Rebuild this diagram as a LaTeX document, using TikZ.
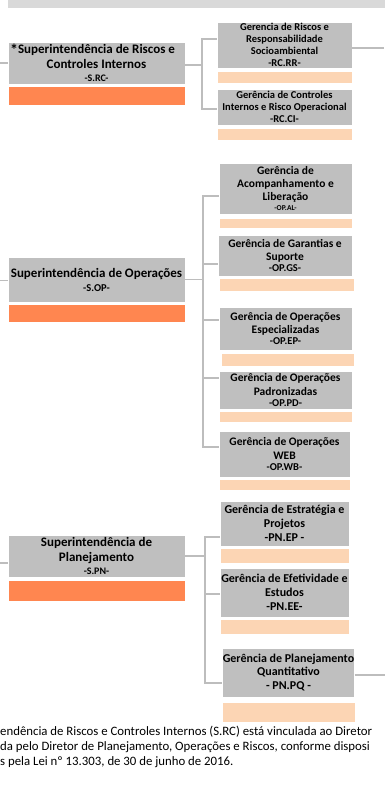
\documentclass[tikz,border=0pt]{standalone}
\usepackage{fontspec}
\setmainfont{Carlito}
\usetikzlibrary{calc,positioning}

\definecolor{boxgray}{HTML}{BFBFBF}
\definecolor{topgray}{HTML}{D9D9D9}
\definecolor{supbarcol}{HTML}{FF8650}
\definecolor{gerbarcol}{HTML}{FCD5B4}
\definecolor{linkgray}{HTML}{BDBDBD}

\newcommand{\fs}[1]{\fontsize{#1}{\dimexpr #1pt*23/20\relax}\selectfont}

\tikzset{
  supbox/.style={fill=boxgray, draw=white, line width=0.6pt, inner sep=0pt, align=center,
    minimum width=177pt, font=\bfseries\fs{13}},
  supbar/.style={fill=supbarcol, draw=white, line width=0.6pt, inner sep=0pt, minimum width=177pt},
  gerbox/.style={fill=boxgray, draw=white, line width=0.6pt, inner sep=0pt, align=center,
    minimum width=134pt},
  gerbar/.style={fill=gerbarcol, draw=white, line width=0.6pt, inner sep=0pt, minimum width=134pt},
  link/.style={draw=linkgray, line width=1.4pt}
}

\begin{document}
\begin{tikzpicture}[x=1pt, y=-1pt]
 \useasboundingbox (0,0) rectangle (385,792);
 \clip (0,0) rectangle (385,792);
 \coordinate (leftedge) at (0,0);
 \coordinate (rightedge) at (385,0);

    % top band
    \fill[topgray] (8,0) rectangle (385,8);

    % superintendencias
    \node[supbox, minimum height=42pt] (src) at (96.5,63)
      {\smash{\llap{\raisebox{-2pt}{\fs{16}*}}}Superintendência de Riscos e\\Controles Internos\\[-2pt]{\fs{10}-S.RC-}};
    \node[supbar, minimum height=19pt] (srcbar) at (96.5,95.5) {};

    \node[supbox, minimum height=45pt] (sop) at (96.5,279.5)
      {Superintendência de Operações\\[-1pt]{\fs{10.5}-S.OP-}};
    \node[supbar, minimum height=18pt] (sopbar) at (96.5,313) {};

    \node[supbox, minimum height=42pt] (spn) at (96.5,556)
      {Superintendência de\\Planejamento\\[-2pt]{\fs{10}-S.PN-}};
    \node[supbar, minimum height=21pt] (spnbar) at (96.5,590.5) {};

    % gerencias S.RC
    \node[gerbox, minimum width=135pt, minimum height=46pt, font=\bfseries\fs{10.5}] (rr) at (284.5,45)
      {Gerencia de Riscos e\\Responsabilidade\\Socioambiental\\-RC.RR-};
    \node[gerbar, minimum width=135pt, minimum height=12pt] (rrbar) at (284.5,77) {};

    \node[gerbox, minimum width=135pt, minimum height=36pt, font=\bfseries\fs{10.5}] (ci) at (284.5,107)
      {Gerência de Controles\\Internos e Risco Operacional\\-RC.CI-};
    \node[gerbar, minimum width=135pt, minimum height=12pt] (cibar) at (284.5,134) {};

    % gerencias S.OP
    \node[gerbox, minimum width=133pt, minimum height=51pt, font=\bfseries\fs{11.5}] (al) at (285.5,188.5)
      {Gerência de\\Acompanhamento e\\Liberação\\[-3pt]{\fs{7.5}-OP.AL-}};
    \node[gerbar, minimum width=133pt, minimum height=10pt] (albar) at (285.5,223) {};

    \node[gerbox, minimum width=134pt, minimum height=41pt, font=\bfseries\fs{11.5}] (gs) at (285,255.5)
      {Gerência de Garantias e\\Suporte\\[-2pt]{\fs{10.5}-OP.GS-}};
    \node[gerbar, minimum width=135pt, minimum height=13pt] (gsbar) at (286.5,284.5) {};

    \node[gerbox, minimum width=133pt, minimum height=43pt, font=\bfseries\fs{11.5}] (ep) at (285.5,328.5)
      {Gerência de Operações\\Especializadas\\[-2pt]{\fs{10.5}-OP.EP-}};
    \node[gerbar, minimum width=133pt, minimum height=13pt] (epbar) at (287.5,359.5) {};

    \node[gerbox, minimum width=133pt, minimum height=38pt, font=\bfseries\fs{11.5}] (pd) at (285.5,390)
      {Gerência de Operações\\Padronizadas\\[-2pt]{\fs{10.5}-OP.PD-}};
    \node[gerbar, minimum width=133pt, minimum height=11pt] (pdbar) at (285.5,416.5) {};

    \node[gerbox, minimum width=131pt, minimum height=46pt, font=\bfseries\fs{11.5}] (wb) at (284.5,454)
      {Gerência de Operações\\WEB\\[-2pt]{\fs{10.5}-OP.WB-}};
    \node[gerbar, minimum width=131pt, minimum height=11pt] (wbbar) at (284.5,484.5) {};

    % gerencias S.PN
    \node[gerbox, minimum width=129pt, minimum height=45pt, font=\bfseries\fs{12}] (pep) at (284.5,523.5)
      {Gerência de Estratégia e\\Projetos\\-PN.EP -};
    \node[gerbar, minimum width=129pt, minimum height=15pt] (pepbar) at (285,555.5) {};

    \node[gerbox, minimum width=129pt, minimum height=49pt, font=\bfseries\fs{12}] (pee) at (284.5,592.5)
      {Gerência de Efetividade e\\Estudos\\-PN.EE-};
    \node[gerbar, minimum width=129pt, minimum height=15pt] (peebar) at (284.5,626.5) {};

    \node[gerbox, minimum width=129pt, minimum height=49pt, font=\bfseries\fs{12}] (pq) at (288.5,672.5)
      {Gerência de Planejamento\\Quantitativo\\- PN.PQ -};
    \node[gerbar, minimum width=133pt, minimum height=20pt] (pqbar) at (288.5,712) {};

    % box cut by the right edge
    \node[gerbox, minimum width=20pt, minimum height=44pt] (nextbox) at (394,46) {};
    \node[gerbar, minimum width=20pt, minimum height=11pt] (nextbar) at (394,76.5) {};

    % connectors
    \coordinate (rc1) at (202,39);
    \coordinate (rc2) at (202,109);
    \coordinate (op1) at (203,196);
    \coordinate (op2) at (203,264);
    \coordinate (op3) at (203,320);
    \coordinate (op4) at (203,378);
    \coordinate (op5) at (203,447);
    \coordinate (pn1) at (205,537);
    \coordinate (pn2) at (205,594);
    \coordinate (pn3) at (205,683);
    \coordinate (rrout) at ([yshift=-3pt]rr.east);

    \draw[link] (src.west) -- (src.west -| leftedge);
    \draw[link] ([yshift=-1pt]sop.west) -- ([yshift=-1pt]sop.west -| leftedge);
    \draw[link] ([yshift=-7pt]spn.west) -- ([yshift=-7pt]spn.west -| leftedge);

    \draw[link] ([yshift=-2pt]src.east) -- ([yshift=-2pt]src.east -| rc1);
    \draw[link] (rc1 -| rr.west) -- (rc1) -- (rc2) -- (rc2 -| ci.west);

    \draw[link] (sop.east) -- (sop.east -| op1);
    \draw[link] (op1 -| al.west) -- (op1) -- (op5) -- (op5 -| wb.west);
    \foreach \g/\k in {op2/gs, op3/ep, op4/pd}
      \draw[link] (\g) -- (\g -| \k.west);

    \draw[link] (spn.east) -- (spn.east -| pn1);
    \draw[link] (pn1 -| pep.west) -- (pn1) -- (pn3) -- (pn3 -| pq.west);
    \draw[link] (pn2) -- (pn2 -| pee.west);

    \draw[link] (rrout) -- (rrout -| nextbox.west);
    \draw[link] ([yshift=-2.5pt]pq.east) -- ([yshift=-2.5pt]pq.east -| rightedge);

    % footnote, cut by the page edges
    \node[anchor=west, inner sep=0pt, font=\fs{12.8}] (note1) at (0,732)
      {endência de Riscos e Controles Internos (S.RC) está vinculada ao Diretor};
    \node[anchor=west, inner sep=0pt, font=\fs{12.8}] (note2) at (0,747)
      {da pelo Diretor de Planejamento, Operações e Riscos, conforme disposi};
    \node[anchor=west, inner sep=0pt, font=\fs{12.8}] (note3) at (0,762)
      {s pela Lei nº 13.303, de 30 de junho de 2016.};

\end{tikzpicture}
\end{document}
